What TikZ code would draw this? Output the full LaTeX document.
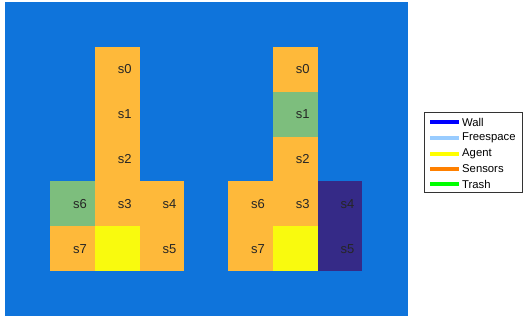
\documentclass[tikz,border=0pt]{standalone}
\usepackage{fontspec}
\setmainfont{Liberation Sans}
\definecolor{bgblue}{RGB}{15,116,219}
\definecolor{corange}{RGB}{254,185,58}
\definecolor{cgreen}{RGB}{125,190,125}
\definecolor{cyellow}{RGB}{249,250,14}
\definecolor{cpurple}{RGB}{53,42,135}
\definecolor{lwall}{RGB}{0,0,255}
\definecolor{lfree}{RGB}{153,204,255}
\definecolor{lagent}{RGB}{255,255,0}
\definecolor{lsens}{RGB}{255,128,0}
\definecolor{ltrash}{RGB}{0,255,0}
\begin{document}
\begin{tikzpicture}[x=1pt,y=-1pt,
  cell/.style={minimum width=44.8pt,minimum height=44.8pt,inner sep=0pt,outer sep=0pt,draw=none},
  lab/.style={font=\fontsize{13}{15}\selectfont,anchor=west,inner sep=0pt,text=black!85},
  legline/.style={line width=4.5pt},
  legtext/.style={font=\fontsize{11.3}{13}\selectfont,anchor=west,inner sep=0pt}]
\useasboundingbox (0,0) rectangle (523,320);
\fill[white] (0,0) rectangle (523,320);
\node[fill=bgblue,minimum width=403pt,minimum height=314pt,inner sep=0pt,anchor=north west] (bg) at (5,2) {};
% left grid
\def\cs{44.8}
\foreach \n/\c/\r/\col in {a0/1/0/corange,a1/1/1/corange,a2/1/2/corange,a6/0/3/cgreen,a3/1/3/corange,a4/2/3/corange,a7/0/4/corange,aA/1/4/cyellow,a5/2/4/corange}{
  \node[cell,fill=\col] (\n) at ({50+\cs*\c+\cs/2},{47+\cs*\r+\cs/2}) {};
}
\foreach \n/\c/\r/\col in {b0/1/0/corange,b1/1/1/cgreen,b2/1/2/corange,b6/0/3/corange,b3/1/3/corange,b4/2/3/cpurple,b7/0/4/corange,bA/1/4/cyellow,b5/2/4/cpurple}{
  \node[cell,fill=\col] (\n) at ({228+\cs*\c+\cs/2},{47+\cs*\r+\cs/2}) {};
}
\foreach \n/\t in {a0/s0,a1/s1,a2/s2,a3/s3,a4/s4,a5/s5,a6/s6,a7/s7,b0/s0,b1/s1,b2/s2,b3/s3,b4/s4,b5/s5,b6/s6,b7/s7}{
  \node[lab] (t\n) at ([xshift=0.5pt]\n.center) {\t};
}
% legend
\node[draw=black!80,fill=white,line width=0.5pt,minimum width=98pt,minimum height=80pt,inner sep=0pt,anchor=north west] (leg) at (424,112) {};
\foreach \y/\col/\t/\nm in {122/lwall/Wall/lw,138/lfree/Freespace/lf,154/lagent/Agent/la,169/lsens/Sensors/ls,184/ltrash/Trash/lt}{
  \coordinate (\nm s) at (430,\y);
  \coordinate (\nm e) at (459,\y);
  \draw[legline,\col] (\nm s) -- (\nm e);
  \node[legtext] (\nm t) at (462,\y) {\t};
}
\end{tikzpicture}
\end{document}
